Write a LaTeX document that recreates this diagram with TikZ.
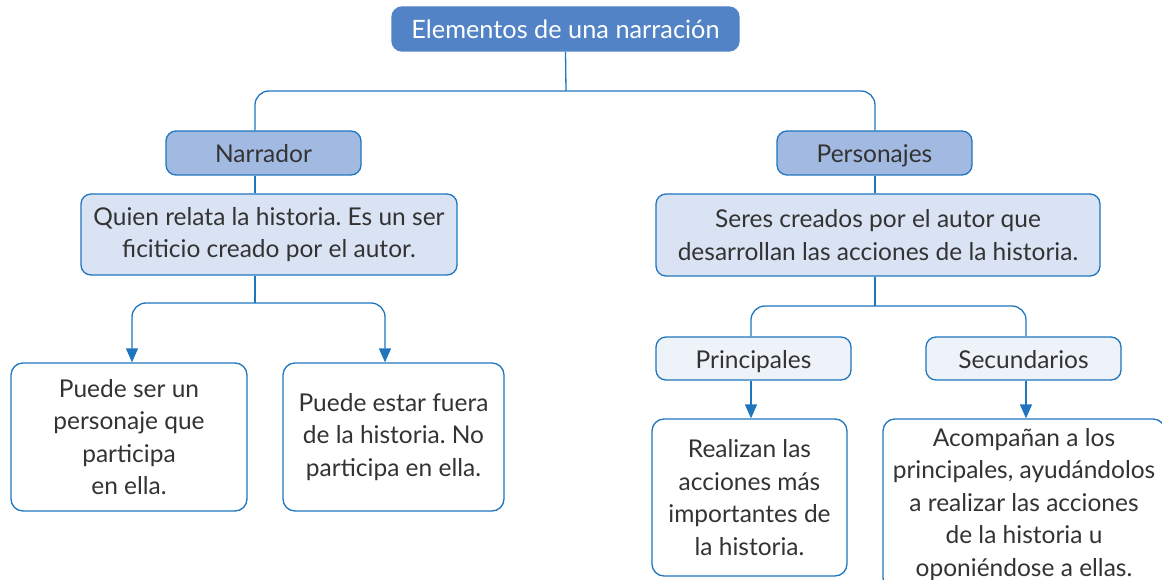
\documentclass[tikz,border=0pt]{standalone}
\usepackage{fontspec}
\setmainfont{Lato}
\usetikzlibrary{arrows.meta}
\frenchspacing
\definecolor{lineblue}{HTML}{1F76BE}
\definecolor{titlefill}{HTML}{5283C6}
\definecolor{midfill}{HTML}{A2B9E1}
\definecolor{descfill}{HTML}{D9E3F3}
\definecolor{palefill}{HTML}{EEF2F9}
\definecolor{txt}{HTML}{333333}
\tikzset{
  box/.style={draw=lineblue, line width=1.3pt, rounded corners=10pt, inner sep=0pt,
    align=center, text=txt, font=\fontsize{24.5}{32.5}\selectfont},
  oneline/.style={text height=21pt, text depth=2pt},
  titlebox/.style={box, oneline, fill=titlefill, draw=titlefill, text=white, font=\fontsize{25.3}{30}\selectfont},
  midbox/.style={box, oneline, fill=midfill},
  descbox/.style={box, fill=descfill},
  palebox/.style={box, oneline, fill=palefill},
  leafbox/.style={box, fill=white, rounded corners=12pt},
  conn/.style={draw=lineblue, line width=1.3pt},
  arr/.style={-{Triangle[width=12pt,length=14pt]}},
}
\begin{document}
\begin{tikzpicture}[x=1pt,y=-1pt]
\useasboundingbox (0,0) rectangle (1162,580);
\clip (0,0) rectangle (1162,580);
\node[titlebox, minimum width=347pt, minimum height=44pt] (title) at (565.5,29) {Elementos de una narración};
\node[midbox, minimum width=195pt, minimum height=44pt] (narr) at (263.5,153) {Narrador};
\node[midbox, minimum width=195pt, minimum height=44pt] (pers) at (874.5,153) {Personajes};
\node[descbox, minimum width=376pt, minimum height=81pt] (narrd) at (269,234.5) {Quien relata la historia. Es un ser\\ficiticio creado por el autor.};
\node[descbox, minimum width=444pt, minimum height=82pt] (persd) at (878,235) {Seres creados por el autor que\\desarrollan las acciones de la historia.};
\node[leafbox, minimum width=236pt, minimum height=148pt] (l1) at (129,437) {Puede ser un\\personaje que\\participa\\en ella.};
\node[leafbox, minimum width=221pt, minimum height=148pt] (l2) at (393.5,437) {Puede estar fuera\\de la historia. No\\participa en ella.};
\node[palebox, minimum width=195pt, minimum height=43pt] (prin) at (753.5,358.5) {Principales};
\node[palebox, minimum width=195pt, minimum height=43pt] (sec) at (1023.5,358.5) {Secundarios};
\node[leafbox, minimum width=195pt, minimum height=157pt] (r1) at (749.5,497.5) {Realizan las\\acciones más\\importantes de\\la historia.};
\node[leafbox, minimum width=282pt, minimum height=171pt] (r2) at (1024,504.5) {Acompañan a los\\principales, ayudándolos\\a realizar las acciones\\de la historia u\\oponiéndose a ellas.};
% junctions
\coordinate (xa) at (255,0);
\coordinate (xb) at (875,0);
\coordinate (xl1) at (132,0);
\coordinate (xl2) at (385,0);
\coordinate (xp) at (751,0);
\coordinate (xs) at (1026,0);
\coordinate (jt) at (566,91);
\coordinate (jl) at (255,303);
\coordinate (jr) at (875,306);
% connectors
\draw[conn] (title.south) -- (jt);
\draw[conn, rounded corners=14pt] (narr.north -| xa) |- (jt) -| (pers.north -| xb);
\draw[conn] (narr.south -| xa) -- (narrd.north -| xa);
\draw[conn] (pers.south -| xb) -- (persd.north -| xb);
\draw[conn] (narrd.south -| xa) -- (jl);
\draw[conn, arr, rounded corners=14pt] (jl) -| (l1.north -| xl1);
\draw[conn, arr, rounded corners=14pt] (jl) -| (l2.north -| xl2);
\draw[conn] (persd.south -| xb) -- (jr);
\draw[conn, rounded corners=14pt] (jr) -| (prin.north -| xp);
\draw[conn, rounded corners=14pt] (jr) -| (sec.north -| xs);
\draw[conn, arr] (prin.south -| xp) -- (r1.north -| xp);
\draw[conn, arr] (sec.south -| xs) -- (r2.north -| xs);
\end{tikzpicture}
\end{document}
